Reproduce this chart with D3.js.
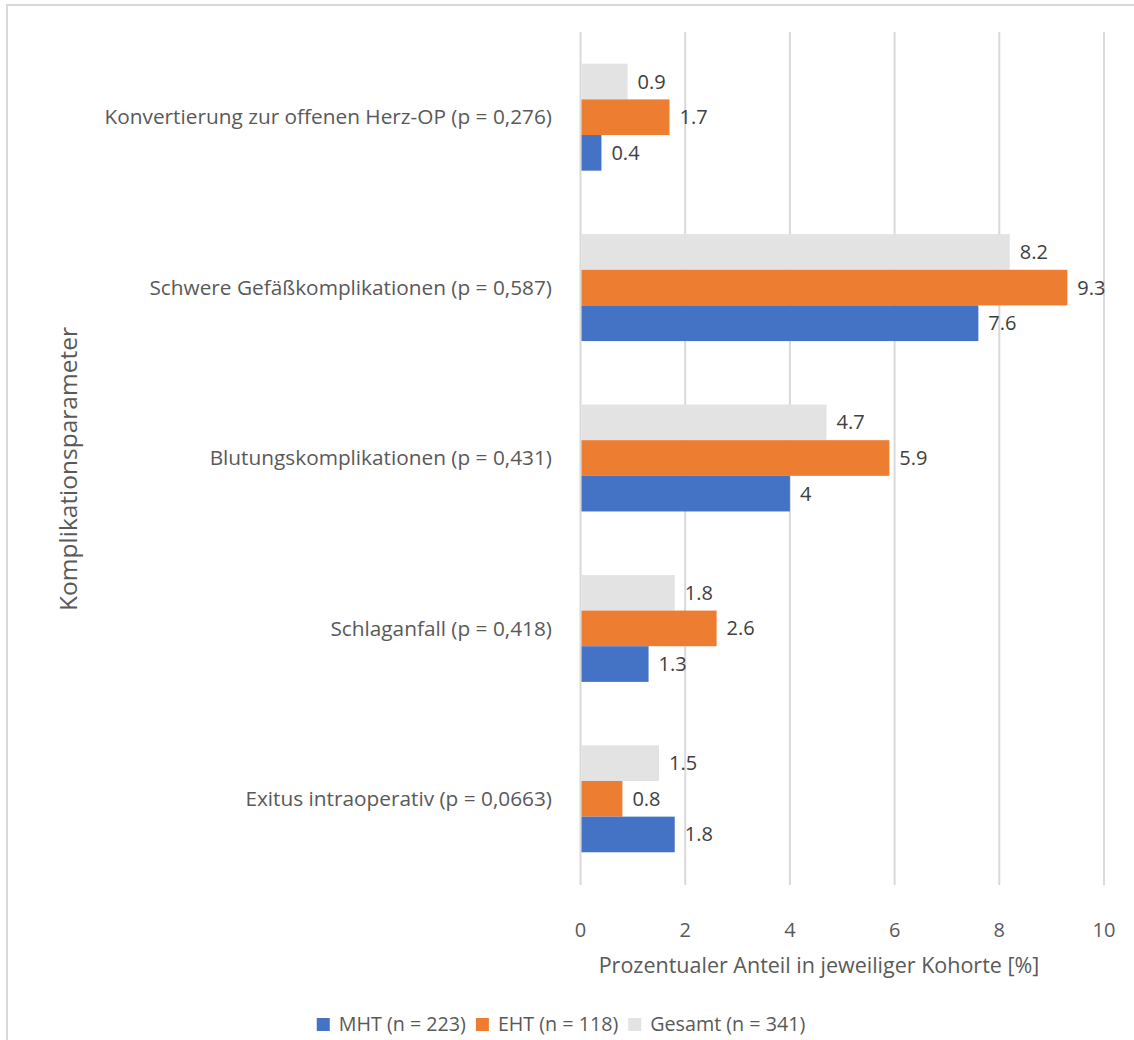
<!DOCTYPE html>
<html>
<head>
<meta charset="utf-8">
<script src="https://cdn.jsdelivr.net/npm/d3@7"></script>
<style>
  html, body { margin: 0; padding: 0; background: #fff; }
  svg { display: block; }
  text { font-family: "Open Sans", "Noto Sans", sans-serif; }
</style>
</head>
<body>
<script>
// Complication parameters (top to bottom) and rates per cohort in percent
const categories = [
  "Konvertierung zur offenen Herz-OP (p = 0,276)",
  "Schwere Gefäßkomplikationen (p = 0,587)",
  "Blutungskomplikationen (p = 0,431)",
  "Schlaganfall (p = 0,418)",
  "Exitus intraoperativ (p = 0,0663)"
];
const seriesNames = ["MHT (n = 223)", "EHT (n = 118)", "Gesamt (n = 341)"];
const mhtValues    = [0.4, 7.6, 4.0, 1.3, 1.8];
const ehtValues    = [1.7, 9.3, 5.9, 2.6, 0.8];
const gesamtValues = [0.9, 8.2, 4.7, 1.8, 1.5];
const seriesColors = ["#4472C4", "#ED7D31", "#E3E3E3"];
const xTicks = [0, 2, 4, 6, 8, 10];

const W = 1134, H = 1040;
const plot = { left: 580.5, right: 1104, top: 32, bottom: 884 };

const svg = d3.select("body").append("svg").attr("width", W).attr("height", H);

// chart frame
svg.append("rect")
  .attr("x", 7).attr("y", 5).attr("width", W + 10).attr("height", H + 10)
  .attr("fill", "none").attr("stroke", "#D9D9D9").attr("stroke-width", 2);

const x = d3.scaleLinear().domain([0, 10]).range([plot.left, plot.right]);
const y = d3.scaleBand().domain(categories).range([plot.top, plot.bottom]).padding(0);

// series drawn top to bottom inside each group: Gesamt, EHT, MHT
const series = [
  { name: seriesNames[2], values: gesamtValues, color: seriesColors[2] },
  { name: seriesNames[1], values: ehtValues, color: seriesColors[1] },
  { name: seriesNames[0], values: mhtValues, color: seriesColors[0] }
];
const inner = d3.scaleBand().domain(series.map(s => s.name))
  .range([0, y.bandwidth()]).paddingInner(0).paddingOuter(0.89);

// vertical gridlines
svg.append("g").selectAll("line").data(xTicks).join("line")
  .attr("x1", d => x(d)).attr("x2", d => x(d))
  .attr("y1", plot.top).attr("y2", plot.bottom + 1)
  .attr("stroke", "#D9D9D9").attr("stroke-width", 2);

// bars
const groups = svg.append("g").selectAll("g").data(series).join("g")
  .attr("fill", s => s.color);
groups.selectAll("rect")
  .data(s => s.values.map((v, i) => ({ s, v, c: categories[i] })))
  .join("rect")
  .attr("x", x(0) + 1)
  .attr("y", d => y(d.c) + inner(d.s.name))
  .attr("width", d => x(d.v) - x(0) - 1)
  .attr("height", inner.bandwidth());

// value labels
svg.append("g").selectAll("g").data(series).join("g")
  .selectAll("text")
  .data(s => s.values.map((v, i) => ({ s, v, c: categories[i] })))
  .join("text")
  .attr("x", d => x(d.v) + 10)
  .attr("y", d => y(d.c) + inner(d.s.name) + inner.bandwidth() / 2)
  .attr("dy", "0.35em")
  .attr("font-size", 20)
  .attr("fill", "#404040")
  .text(d => String(d.v));

// category axis labels
svg.append("g").selectAll("text").data(categories).join("text")
  .attr("x", 552)
  .attr("y", d => y(d) + y.bandwidth() / 2)
  .attr("dy", "0.35em")
  .attr("text-anchor", "end")
  .attr("font-size", 20.8)
  .attr("fill", "#595959")
  .text(d => d);

// x tick labels
svg.append("g").selectAll("text").data(xTicks).join("text")
  .attr("x", d => x(d))
  .attr("y", 930)
  .attr("dy", "0.35em")
  .attr("text-anchor", "middle")
  .attr("font-size", 20)
  .attr("fill", "#595959")
  .text(d => d);

// axis titles
svg.append("text")
  .attr("x", 819).attr("y", 965)
  .attr("dy", "0.35em").attr("text-anchor", "middle")
  .attr("font-size", 21.5).attr("fill", "#595959")
  .text("Prozentualer Anteil in jeweiliger Kohorte [%]");

svg.append("text")
  .attr("transform", "translate(68,469) rotate(-90)")
  .attr("dy", "0.35em").attr("text-anchor", "middle")
  .attr("font-size", 24.5).attr("fill", "#595959")
  .text("Komplikationsparameter");

// legend
const legendItems = seriesNames.map((n, i) => ({ name: n, color: seriesColors[i] }));
const legend = svg.append("g");
let lx = 0;
legendItems.forEach(item => {
  const g = legend.append("g").attr("transform", `translate(${lx},0)`);
  g.append("rect").attr("x", 0).attr("y", -6).attr("width", 13).attr("height", 13)
    .attr("fill", item.color);
  const t = g.append("text").attr("x", 22).attr("y", 0).attr("dy", "0.35em")
    .attr("font-size", 19.7).attr("fill", "#595959").text(item.name);
  lx += 22 + t.node().getComputedTextLength() + 10;
});
const legendWidth = lx - 10;
legend.attr("transform", `translate(${561 - legendWidth / 2},1024)`);
</script>
</body>
</html>
